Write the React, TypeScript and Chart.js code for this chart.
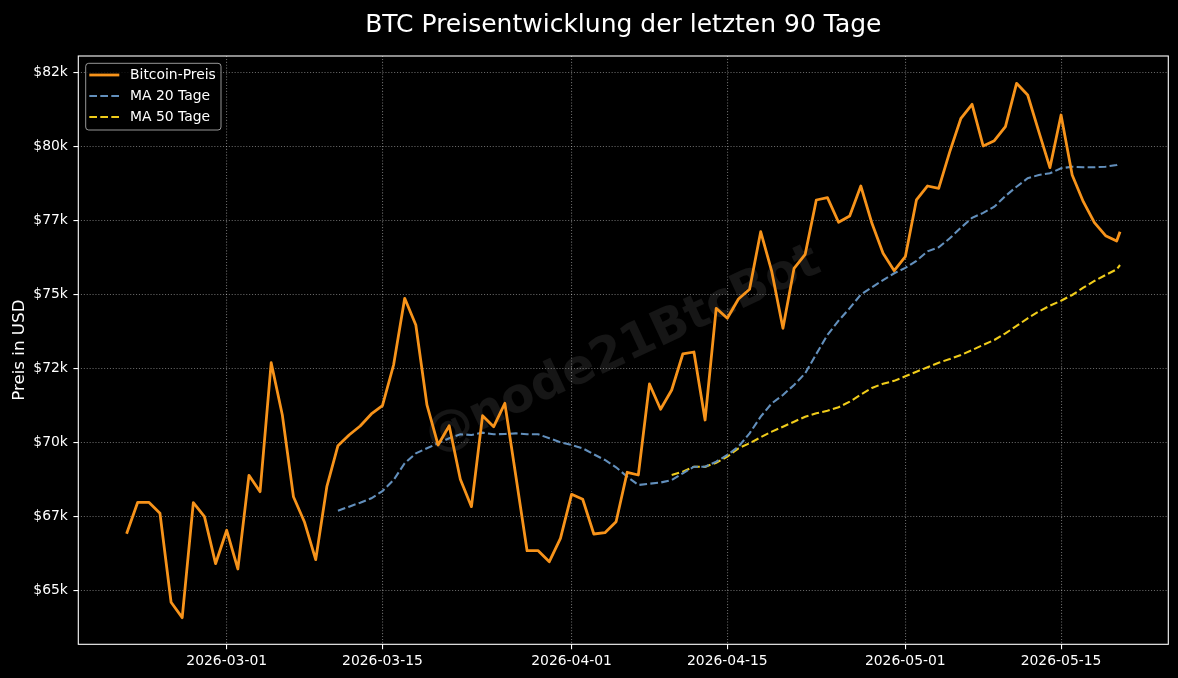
import React, { useEffect, useRef } from 'react';
import { Chart, registerables } from 'chart.js';

Chart.register(...registerables);

const FONT = "'DejaVu Sans', 'Liberation Sans', sans-serif";

// Daily points starting 2026-02-20 (day 0); the last point is the current (intraday) value
const startDate = '2026-02-20';
const dayOffsets: number[] = [...Array(90).keys()].concat([89.3]);

const price: number[] = [
  66913, 67973, 67973, 67602, 64595, 64075, 67960, 67487, 65899, 67027,
  65720, 68885, 68331, 72689, 70922, 68162, 67298, 66034, 68500, 69885,
  70247, 70551, 70956, 71236, 72611, 74864, 73962, 71260, 69909, 70561,
  68750, 67825, 70900, 70527, 71317, 68838, 66338, 66338, 65967, 66757,
  68243, 68075, 66902, 66946, 67318, 68987, 68895, 71969, 71115, 71767,
  72983, 73050, 70753, 74527, 74189, 74841, 75168, 77114, 75763, 73851,
  75878, 76351, 78185, 78263, 77432, 77644, 78658, 77398, 76385, 75797,
  76270, 78185, 78658, 78580, 79817, 80945, 81418, 80009, 80188, 80661,
  82127, 81732, 80492, 79276, 81056, 79029, 78128, 77418, 76980, 76800,
  77114,
];

const ma20: (number | null)[] = Array(19).fill(null).concat([
  67690, 67825, 67960, 68108, 68350, 68726, 69291, 69628, 69797, 69966, 70135,
  70270, 70247, 70326, 70270, 70280, 70300, 70270, 70270, 70135, 70000,
  69909, 69797, 69594, 69402, 69155, 68838, 68558, 68600, 68640, 68726,
  68953, 69176, 69176, 69345, 69571, 69851, 70304, 70865, 71317, 71598,
  71936, 72331, 72983, 73625, 74108, 74530, 74990, 75236, 75482, 75709,
  75890, 76130, 76450, 76587, 76891, 77250, 77580, 77750, 77958, 78320,
  78634, 78918, 79029, 79087, 79256, 79310, 79290, 79290, 79310, 79367,
  79425,
]);

const ma50: (number | null)[] = Array(49).fill(null).concat([
  68895,
  69007, 69176, 69170, 69311, 69514, 69797, 69966, 70169, 70360, 70527,
  70696, 70865, 70980, 71067, 71182, 71371, 71610, 71835, 71980, 72075,
  72230, 72385, 72533, 72689, 72814, 72949, 73118, 73287, 73456, 73682,
  73929, 74189, 74420, 74614, 74783, 74976, 75222, 75449, 75651, 75844,
  75989,
]);

const xTickDays = [9, 23, 40, 54, 70, 84];
const xTickLabels = ['2026-03-01', '2026-03-15', '2026-04-01', '2026-04-15', '2026-05-01', '2026-05-15'];
const yTickValues = [65000, 67500, 70000, 72500, 75000, 77500, 80000, 82500];
const yTickLabels = ['$65k', '$67k', '$70k', '$72k', '$75k', '$77k', '$80k', '$82k'];

const seriesNames = ['Bitcoin-Preis', 'MA 20 Tage', 'MA 50 Tage'];
const seriesColors = ['#F7931A', '#628fbc', '#f0cc1a'];
const watermarkText = '@node21BtcBot';

const DASH = [7.7, 3.3];

const watermarkPlugin = {
  id: 'watermark',
  beforeDatasetsDraw(chart: any) {
    const { ctx, chartArea: ca } = chart;
    ctx.save();
    ctx.beginPath();
    ctx.rect(ca.left, ca.top, ca.right - ca.left, ca.bottom - ca.top);
    ctx.clip();
    ctx.translate((ca.left + ca.right) / 2, (ca.top + ca.bottom) / 2);
    ctx.rotate((-25 * Math.PI) / 180);
    ctx.font = `bold 48px ${FONT}`;
    ctx.fillStyle = 'rgba(255,255,255,0.085)';
    ctx.textAlign = 'center';
    ctx.textBaseline = 'middle';
    ctx.fillText(watermarkText, 0, 0);
    ctx.restore();
  },
};

const frameAndLegendPlugin = {
  id: 'frameLegend',
  afterDatasetsDraw(chart: any) {
    const { ctx, chartArea: ca } = chart;
    ctx.save();
    // axes frame (all four spines)
    ctx.strokeStyle = '#ffffff';
    ctx.lineWidth = 1.1;
    ctx.setLineDash([]);
    ctx.strokeRect(ca.left, ca.top, ca.right - ca.left, ca.bottom - ca.top);

    // legend
    const boxL = ca.left + 7.4;
    const boxT = ca.top + 7.3;
    const boxW = 135.3;
    const boxH = 66.7;
    ctx.beginPath();
    if (ctx.roundRect) ctx.roundRect(boxL, boxT, boxW, boxH, 3);
    else ctx.rect(boxL, boxT, boxW, boxH);
    ctx.fillStyle = 'rgba(0,0,0,0.8)';
    ctx.fill();
    ctx.strokeStyle = 'rgba(200,200,200,0.75)';
    ctx.lineWidth = 1;
    ctx.stroke();

    ctx.font = `13.9px ${FONT}`;
    ctx.textAlign = 'left';
    ctx.textBaseline = 'middle';
    seriesNames.forEach((name, k) => {
      const y = boxT + 11.7 + 21 * k;
      const x1 = boxL + 3.6;
      ctx.beginPath();
      ctx.strokeStyle = seriesColors[k];
      ctx.lineWidth = k === 0 ? 2.78 : 2.08;
      ctx.setLineDash(k === 0 ? [] : DASH);
      ctx.moveTo(x1, y);
      ctx.lineTo(x1 + 30, y);
      ctx.stroke();
      ctx.setLineDash([]);
      ctx.fillStyle = '#ffffff';
      ctx.fillText(name, boxL + 44.3, y);
    });
    ctx.restore();
  },
};

export default function App() {
  const ref = useRef<HTMLCanvasElement>(null);

  useEffect(() => {
    document.body.style.margin = '0';
    document.body.style.background = '#000';
    const canvas = ref.current;
    if (!canvas) return;
    Chart.defaults.font.family = FONT;
    Chart.defaults.color = '#ffffff';

    const toPoints = (arr: (number | null)[]) => dayOffsets.map((x, i) => ({ x, y: arr[i] }));

    const gridCommon = {
      color: 'rgba(255,255,255,0.4)',
      lineWidth: 1.1,
      drawTicks: true,
      tickLength: 4.9,
      tickColor: '#ffffff',
      tickWidth: 1.1,
      tickBorderDash: [],
    };
    const borderCommon = { display: false, dash: [1.1, 1.8], dashOffset: 0 };

    const chart = new Chart(canvas, {
      type: 'line',
      data: {
        datasets: [
          {
            label: seriesNames[0],
            data: toPoints(price),
            borderColor: seriesColors[0],
            borderWidth: 2.78,
            pointRadius: 0,
            tension: 0,
            borderJoinStyle: 'round',
          },
          {
            label: seriesNames[1],
            data: toPoints(ma20),
            borderColor: seriesColors[1],
            borderWidth: 2.08,
            borderDash: DASH,
            pointRadius: 0,
            tension: 0,
          },
          {
            label: seriesNames[2],
            data: toPoints(ma50),
            borderColor: seriesColors[2],
            borderWidth: 2.08,
            borderDash: DASH,
            pointRadius: 0,
            tension: 0,
          },
        ],
      },
      options: {
        animation: false,
        responsive: false,
        events: [],
        layout: { padding: { left: 0, right: 9.7, top: 0, bottom: 0 } },
        plugins: {
          legend: { display: false },
          tooltip: { enabled: false },
          title: {
            display: true,
            text: 'BTC Preisentwicklung der letzten 90 Tage',
            color: '#ffffff',
            font: { family: FONT, size: 25, weight: 'normal', lineHeight: 1.2 },
            padding: { top: 10, bottom: 16 },
            fullSize: false,
          },
        },
        scales: {
          x: {
            type: 'linear',
            min: -4.34,
            max: 93.64,
            afterBuildTicks: (s: any) => {
              s.ticks = xTickDays.map((v) => ({ value: v }));
            },
            afterFit: (s: any) => {
              s.height = 33.7;
            },
            ticks: {
              autoSkip: false,
              maxRotation: 0,
              minRotation: 0,
              padding: 3.4,
              color: '#ffffff',
              font: { family: FONT, size: 13.9 },
              callback: (v: any) => {
                const i = xTickDays.indexOf(Number(v));
                return i >= 0 ? xTickLabels[i] : '';
              },
            },
            grid: gridCommon,
            border: borderCommon,
          },
          y: {
            type: 'linear',
            min: 63176,
            max: 83049,
            afterBuildTicks: (s: any) => {
              s.ticks = yTickValues.map((v) => ({ value: v }));
            },
            afterFit: (s: any) => {
              s.width = 78.3;
            },
            title: {
              display: true,
              text: 'Preis in USD',
              color: '#ffffff',
              font: { family: FONT, size: 16.7, lineHeight: 1.2 },
              padding: { top: 9.2, bottom: 0 },
            },
            ticks: {
              padding: 5.5,
              color: '#ffffff',
              font: { family: FONT, size: 13.9 },
              callback: (v: any) => {
                const i = yTickValues.indexOf(Number(v));
                return i >= 0 ? yTickLabels[i] : '';
              },
            },
            grid: gridCommon,
            border: borderCommon,
          },
        },
      },
      plugins: [watermarkPlugin, frameAndLegendPlugin],
    } as any);

    return () => chart.destroy();
  }, []);

  return (
    <div
      style={{ position: 'absolute', left: 0, top: 0, width: 1178, height: 678, background: '#000' }}
      data-start={startDate}
    >
      <canvas ref={ref} width={1178} height={678} style={{ display: 'block', width: 1178, height: 678 }} />
    </div>
  );
}
